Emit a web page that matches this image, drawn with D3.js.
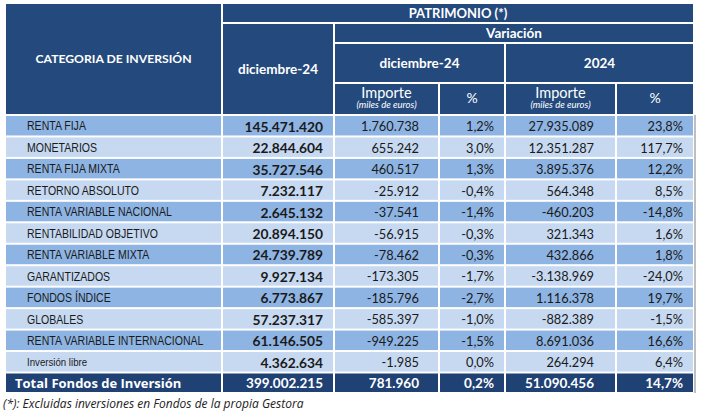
<!DOCTYPE html>
<html><head><meta charset="utf-8">
<script src="https://cdn.jsdelivr.net/npm/d3@7/dist/d3.min.js"></script>
<style>body{margin:0;background:#fff;} svg{display:block;}</style>
</head><body>
<svg id="c" width="704" height="414"></svg>
<script>
const categories = ["RENTA FIJA","MONETARIOS","RENTA FIJA MIXTA","RETORNO ABSOLUTO","RENTA VARIABLE NACIONAL","RENTABILIDAD OBJETIVO","RENTA VARIABLE MIXTA","GARANTIZADOS","FONDOS ÍNDICE","GLOBALES","RENTA VARIABLE INTERNACIONAL","Inversión libre"];
const patrimonio = ["145.471.420","22.844.604","35.727.546","7.232.117","2.645.132","20.894.150","24.739.789","9.927.134","6.773.867","57.237.317","61.146.505","4.362.634"];
const importeMes = ["1.760.738","655.242","460.517","-25.912","-37.541","-56.915","-78.462","-173.305","-185.796","-585.397","-949.225","-1.985"];
const pctMes = ["1,2%","3,0%","1,3%","-0,4%","-1,4%","-0,3%","-0,3%","-1,7%","-2,7%","-1,0%","-1,5%","0,0%"];
const importeAnio = ["27.935.089","12.351.287","3.895.376","564.348","-460.203","321.343","432.866","-3.138.969","1.116.378","-882.389","8.691.036","264.294"];
const pctAnio = ["23,8%","117,7%","12,2%","8,5%","-14,8%","1,6%","1,8%","-24,0%","19,7%","-1,5%","16,6%","6,4%"];
const totalRow = ["Total Fondos de Inversión","399.002.215","781.960","0,2%","51.090.456","14,7%"];
const footnote = "(*): Excluidas inversiones en Fondos de la propia Gestora";

const svg = d3.select("#c");
const colEdges = [5,222,334,439,505,616,694];
const hdrY = [3,23,43,83,115];
const DARK="#244A7D", ROWD="#8EB4E3", ROWL="#C6D9F1", TOT="#1F4173";
const numFont = "Lato, 'Open Sans', sans-serif";
const lblFont = "'Liberation Sans', Arial, sans-serif";

function cell(x0,x1,y0,y1,fill){
  svg.append("rect").attr("x",x0+1).attr("y",y0+1).attr("width",x1-x0-2).attr("height",y1-y0-2).attr("fill",fill);
}
function txt(x,y,s,o,parent){
  o=o||{};
  return (parent||svg).append("text").attr("x",x).attr("y",y).text(s)
    .attr("text-anchor",o.anchor||"middle").attr("dominant-baseline","central")
    .attr("font-family",o.font||numFont).attr("font-size",o.size||12)
    .attr("font-weight",o.weight||"normal").attr("font-style",o.style||"normal")
    .attr("fill",o.fill||"#1a1a1a");
}
// header
cell(colEdges[0],colEdges[1],hdrY[0],hdrY[4],DARK);
cell(colEdges[1],colEdges[6],hdrY[0],hdrY[1],DARK);
cell(colEdges[1],colEdges[2],hdrY[1],hdrY[4],DARK);
cell(colEdges[2],colEdges[6],hdrY[1],hdrY[2],DARK);
cell(colEdges[2],colEdges[4],hdrY[2],hdrY[3],DARK);
cell(colEdges[4],colEdges[6],hdrY[2],hdrY[3],DARK);
for(let i=2;i<6;i++) cell(colEdges[i],colEdges[i+1],hdrY[3],hdrY[4],DARK);

const hw={fill:"#fff",weight:"bold",size:12.2};
const hl={fill:"#fff",weight:"bold",size:13.5};
txt((colEdges[0]+colEdges[1])/2,58.5,"CATEGORIA DE INVERSIÓN",hw);
txt((colEdges[1]+colEdges[6])/2,13,"PATRIMONIO (*)",{fill:"#fff",weight:"bold",size:13});
txt((colEdges[1]+colEdges[2])/2,69,"diciembre-24",hl);
txt((colEdges[2]+colEdges[6])/2,33,"Variación",hl);
txt((colEdges[2]+colEdges[4])/2,63,"diciembre-24",hl);
txt((colEdges[4]+colEdges[6])/2,63,"2024",hl);
[2,4].forEach(i=>{
  const cx=(colEdges[i]+colEdges[i+1])/2;
  txt(cx,92,"Importe",{fill:"#fff",size:14.5});
  txt(cx,104.5,"(miles de euros)",{fill:"#fff",size:9.5,style:"italic"});
});
[3,5].forEach(i=>txt((colEdges[i]+colEdges[i+1])/2,97,"%",{fill:"#fff",size:14}));

// rows
const y = d3.scaleBand().domain(d3.range(categories.length)).range([115,372.5]);
const pads=[0,11,20,11,22,11];
const cols=[categories,patrimonio,importeMes,pctMes,importeAnio,pctAnio];
categories.forEach((c,r)=>{
  const y0=y(r), y1=y(r)+y.bandwidth();
  const fill = r%2===0?ROWD:ROWL;
  for(let i=0;i<6;i++) cell(colEdges[i],colEdges[i+1],y0,y1,fill);
});
// labels in condensed group
const lg = svg.append("g");
categories.forEach((c,r)=>{
  const cy=y(r)+y.bandwidth()/2+0.5;
  txt(0,cy,c,{anchor:"start",font:lblFont,size:c==="Inversión libre"?11:12},lg).attr("class","lbl");
});
// condense labels horizontally so the widest fits its measured width
const probe = lg.selectAll("text.lbl").filter(d=>false);
let w=0; lg.selectAll("text.lbl").each(function(){ if(this.textContent==="RENTA VARIABLE NACIONAL") w=this.getComputedTextLength(); });
const sx = w>0 ? 145/w : 0.84;
lg.attr("transform",`translate(27,0) scale(${sx},1)`);

categories.forEach((c,r)=>{
  const cy=y(r)+y.bandwidth()/2+0.5;
  for(let i=1;i<6;i++){
    txt(colEdges[i+1]-pads[i],cy,cols[i][r],{anchor:"end",weight:i===1?"bold":"normal",size:i===1?13.8:12.8});
  }
});
// total row
const t0=372.5,t1=393;
for(let i=0;i<6;i++) cell(colEdges[i],colEdges[i+1],t0,t1,TOT);
txt(15,(t0+t1)/2,totalRow[0],{anchor:"start",fill:"#fff",weight:"bold",size:13,font:"'Open Sans',sans-serif"});
for(let i=1;i<6;i++) txt(colEdges[i+1]-pads[i],(t0+t1)/2,totalRow[i],{anchor:"end",fill:"#fff",weight:"bold",size:13.5});
// right shadow
svg.append("rect").attr("x",694).attr("y",115).attr("width",2).attr("height",278).attr("fill","#bfbfbf");
txt(3,403.5,footnote,{anchor:"start",style:"italic",size:12,font:"'Open Sans',sans-serif",fill:"#222"});
</script>
</body></html>
